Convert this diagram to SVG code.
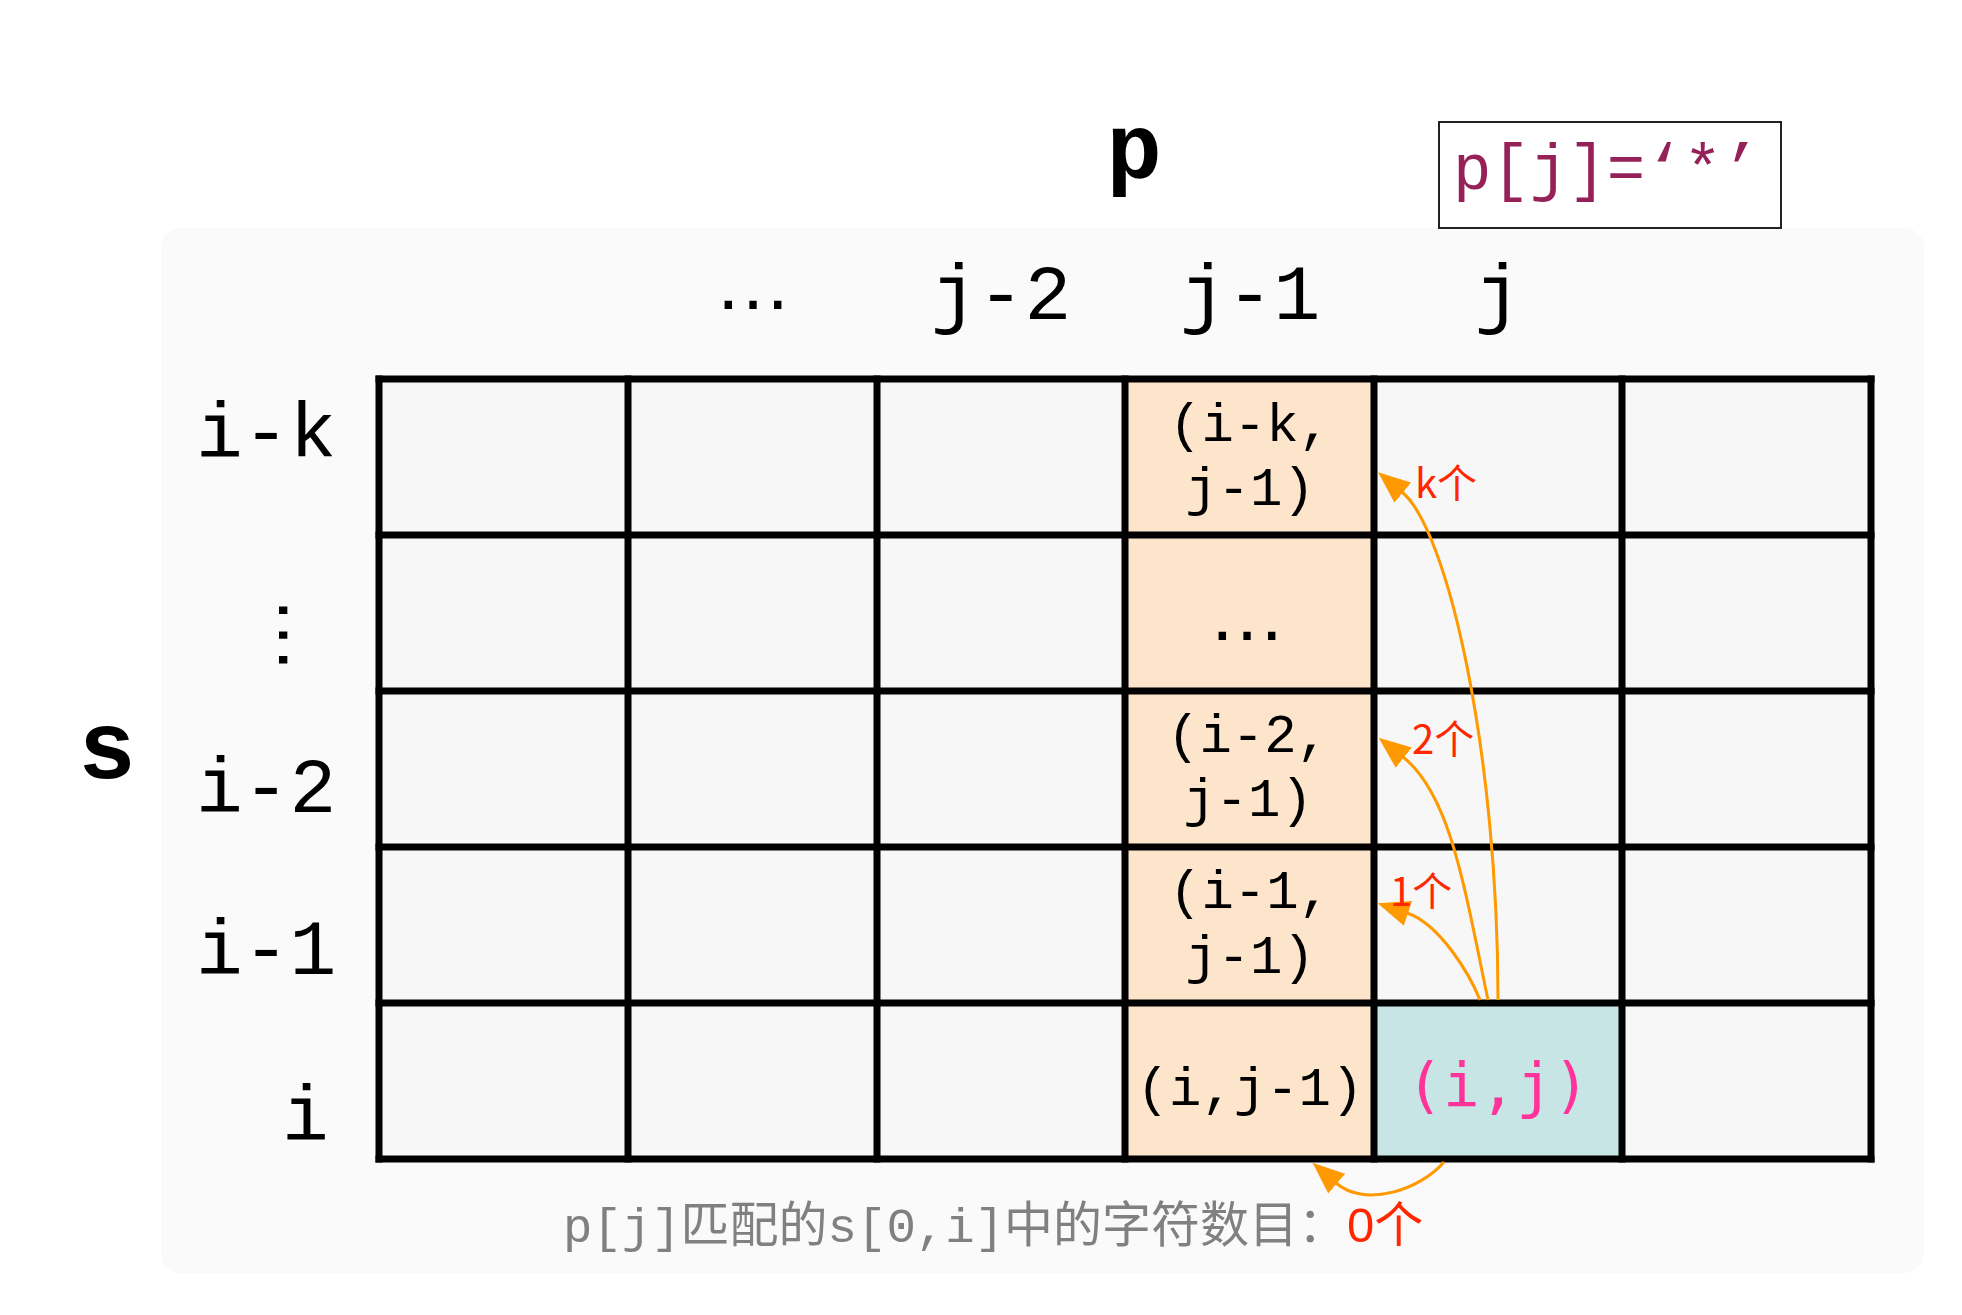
<svg xmlns="http://www.w3.org/2000/svg" width="1962" height="1315" viewBox="0 0 1962 1315">
<style>
.mono{font-family:'Liberation Mono','Courier New','Noto Sans CJK SC',monospace;}
.hdr{font-size:78px;fill:#000;}
.cell{fill:#f7f7f7;}
.jm1{fill:#fce5cb;}
.ij{fill:#c7e5e4;}
.ctext{font-size:54px;fill:#000;text-anchor:middle;}
.dots{font-family:'Liberation Sans',Arial,sans-serif;font-size:78px;fill:#000;text-anchor:middle;}
.cnt{font-family:'Noto Sans CJK SC','Liberation Sans',sans-serif;font-size:40px;fill:#ff2600;}
.conn{fill:none;stroke:#ff9900;stroke-width:3;marker-end:url(#ah);}
</style>
<defs>
<marker id="ah" markerUnits="userSpaceOnUse" viewBox="0 0 32 26" markerWidth="32" markerHeight="26" refX="1" refY="13" orient="auto">
<path d="M0,0 L32,13 L0,26 Z" fill="#ff9900"/>
</marker>
</defs>
<rect width="1962" height="1315" fill="#ffffff"/>
<g id="panel">
<rect x="161" y="228" width="1763" height="1045" rx="20" fill="#fafafa"/>
</g>
<g id="title-p"><text class="mono" x="1134" y="178" text-anchor="middle" font-size="92" font-weight="bold" fill="#000">p</text></g>
<g id="title-s"><text class="mono" x="107" y="778" text-anchor="middle" font-size="96" font-weight="bold" fill="#000">s</text></g>
<g id="legend">
<rect x="1439" y="122" width="342" height="106" fill="#ffffff" stroke="#222" stroke-width="2"/>
<text class="mono" x="1453" y="189" font-size="64" fill="#952158">p[j]=‘*’</text>
</g>
<g id="col-headers">
<text class="dots" x="753" y="309">…</text>
<text class="mono hdr" x="1001" y="319" text-anchor="middle">j-2</text>
<text class="mono hdr" x="1250" y="319" text-anchor="middle">j-1</text>
<text class="mono hdr" x="1498" y="319" text-anchor="middle">j</text>
</g>
<g id="row-headers">
<text class="mono hdr" x="196" y="457">i-k</text>
<text class="dots" transform="translate(283,635) rotate(90)" x="0" y="4">…</text>
<text class="mono hdr" x="196" y="812">i-2</text>
<text class="mono hdr" x="196" y="974">i-1</text>
<text class="mono hdr" x="282" y="1140">i</text>
</g>
<g id="cells">
<g id="row-ik">
<rect class="cell" x="379" y="379" width="249" height="156"/>
<rect class="cell" x="628" y="379" width="249" height="156"/>
<rect class="cell" x="877" y="379" width="248" height="156"/>
<g id="cell-ik-j1"><rect class="jm1" x="1125" y="379" width="249" height="156"/>
<text class="mono ctext" x="1250" y="441">(i-k,</text>
<text class="mono ctext" x="1250" y="505">j-1)</text></g>
<rect class="cell" x="1374" y="379" width="248" height="156"/>
<rect class="cell" x="1622" y="379" width="249" height="156"/>
</g>
<g id="row-dots">
<rect class="cell" x="379" y="535" width="249" height="156"/>
<rect class="cell" x="628" y="535" width="249" height="156"/>
<rect class="cell" x="877" y="535" width="248" height="156"/>
<g id="cell-dots-j1"><rect class="jm1" x="1125" y="535" width="249" height="156"/>
<text class="dots" x="1247" y="640">…</text></g>
<rect class="cell" x="1374" y="535" width="248" height="156"/>
<rect class="cell" x="1622" y="535" width="249" height="156"/>
</g>
<g id="row-i2">
<rect class="cell" x="379" y="691" width="249" height="156"/>
<rect class="cell" x="628" y="691" width="249" height="156"/>
<rect class="cell" x="877" y="691" width="248" height="156"/>
<g id="cell-i2-j1"><rect class="jm1" x="1125" y="691" width="249" height="156"/>
<text class="mono ctext" x="1248" y="752">(i-2,</text>
<text class="mono ctext" x="1248" y="816">j-1)</text></g>
<rect class="cell" x="1374" y="691" width="248" height="156"/>
<rect class="cell" x="1622" y="691" width="249" height="156"/>
</g>
<g id="row-i1">
<rect class="cell" x="379" y="847" width="249" height="156"/>
<rect class="cell" x="628" y="847" width="249" height="156"/>
<rect class="cell" x="877" y="847" width="248" height="156"/>
<g id="cell-i1-j1"><rect class="jm1" x="1125" y="847" width="249" height="156"/>
<text class="mono ctext" x="1250" y="908">(i-1,</text>
<text class="mono ctext" x="1250" y="973">j-1)</text></g>
<rect class="cell" x="1374" y="847" width="248" height="156"/>
<rect class="cell" x="1622" y="847" width="249" height="156"/>
</g>
<g id="row-i">
<rect class="cell" x="379" y="1003" width="249" height="156"/>
<rect class="cell" x="628" y="1003" width="249" height="156"/>
<rect class="cell" x="877" y="1003" width="248" height="156"/>
<g id="cell-i-j1"><rect class="jm1" x="1125" y="1003" width="249" height="156"/>
<text class="mono ctext" x="1250" y="1105">(i,j-1)</text></g>
<g id="cell-i-j"><rect class="ij" x="1374" y="1003" width="248" height="156"/>
<text x="1498" y="1106" text-anchor="middle" font-family="'DejaVu Sans Mono','Liberation Mono',monospace" font-size="61" fill="#ff3399">(i,j)</text></g>
<rect class="cell" x="1622" y="1003" width="249" height="156"/>
</g>
</g>
<g id="grid-lines" fill="none" stroke="#000" stroke-width="7" stroke-linecap="square">
<path d="M379,379H1871M379,535H1871M379,691H1871M379,847H1871M379,1003H1871M379,1159H1871"/>
<path d="M379,379V1159M628,379V1159M877,379V1159M1125,379V1159M1374,379V1159M1622,379V1159M1871,379V1159"/>
</g>
<g id="connectors">
<path class="conn" d="M1498,1000 C1498,753 1448,530 1402,492"/>
<path class="conn" d="M1488,1000 C1464,885 1450,794 1403,757"/>
<path class="conn" d="M1480,1000 C1470,975 1440,924 1407,913"/>
<path class="conn" d="M1444,1162 C1420,1190 1365,1208 1336,1183"/>
</g>
<g id="counts">
<text class="cnt" x="1415" y="498">k个</text>
<text class="cnt" x="1412" y="754">2个</text>
<text class="cnt" x="1390" y="906">1个</text>
</g>
<g id="caption">
<text class="mono" x="563" y="1242" font-size="49" fill="#808080">p[j]匹配的s[0,i]中的字符数目：<tspan font-family="'Liberation Sans','Noto Sans CJK SC',sans-serif" fill="#ff2600">0个</tspan></text>
</g>
</svg>
